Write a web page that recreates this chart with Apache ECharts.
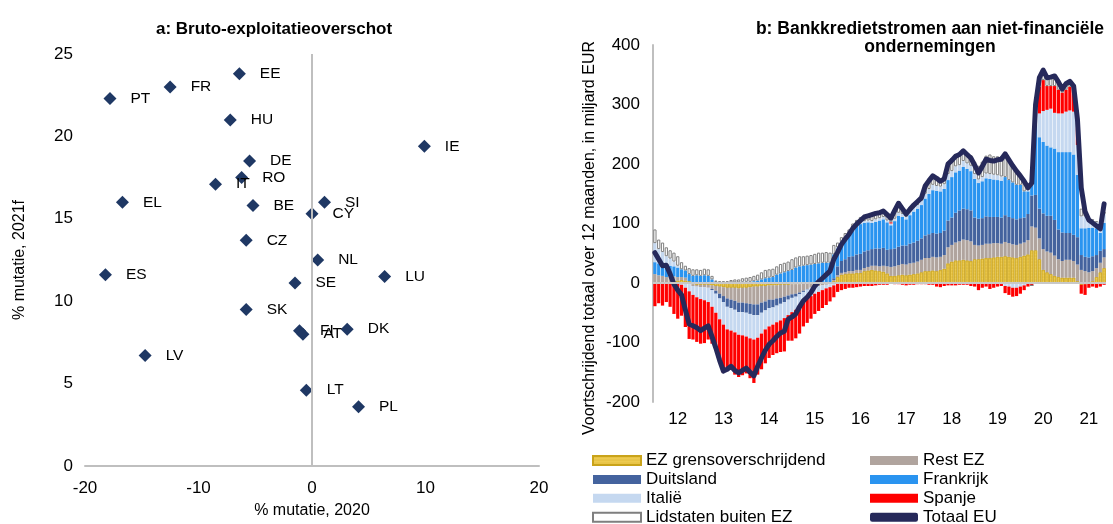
<!DOCTYPE html>
<html>
<head>
<meta charset="utf-8">
<script src="https://cdn.jsdelivr.net/npm/echarts@6/dist/echarts.min.js"></script>
<style>
html,body{margin:0;padding:0;background:#fff;}
#chart{width:1113px;height:524px;}
</style>
</head>
<body>
<div id="chart"></div>
<script>
// ---- Panel a: scatter ----
const countries = ['PT','FR','EE','HU','IE','DE','RO','IT','EL','BE','SI','CY','CZ','NL','ES','SE','LU','SK','FI','AT','DK','LV','LT','PL'];
const growth2020 = [-17.8,-12.5,-6.4,-7.2,9.9,-5.5,-6.2,-8.5,-16.7,-5.2,1.1,0.0,-5.8,0.5,-18.2,-1.5,6.4,-5.8,-1.1,-0.8,3.1,-14.7,-0.5,4.1];
const growth2021 = [22.3,23.0,23.8,21.0,19.4,18.5,17.5,17.1,16.0,15.8,16.0,15.3,13.7,12.5,11.6,11.1,11.5,9.5,8.2,8.0,8.3,6.7,4.6,3.6];

// ---- Panel b: monthly 12-month flows, Jan 2012 .. Nov 2021 ----
const months = [];
for (let y = 2012; y <= 2021; y++) for (let m = 1; m <= 12; m++) if (months.length < 119) months.push(y + '-' + String(m).padStart(2,'0'));

const ezCross = [0,0,0,0,2,3,4,5,4,3, -2,-3,-3,-3,-3,-4,-5,-6,-7,-8, -8,-8,-9,-8,-8,-7,-6,-6,-5,-5,
 -4,-4,-4,-3,-3,-3,-2,-2,-2,-1, 0,0,0,0,0,0,0,3,10,14, 15,16,16,17,17,20,21,22,21,20,
 19,16,12,12,13,14,13,14,15,16, 18,20,20,21,20,22,24,33,36,38, 38,39,38,37,40,40,41,42,42,43,
 44,44,45,44,43,42,44,46,48,55, 55,40,22,18,15,12,10,9,9,9, 9,3,-3,-2,0,3,10,18,25];
const restEZ = [15,13,12,10,9,8,6,5,5,-2, -3,-3,-4,-4,-5,-6,-8,-12,-15,-18, -20,-22,-24,-25,-26,-28,-30,-30,-28,-26,
 -24,-24,-22,-22,-20,-18,-17,-16,-14,-12, -10,-8,-6,-5,-4,-3,-2,2,3,3, 3,4,4,5,5,5,6,7,8,8,
 10,12,15,16,17,18,18,19,19,20, 21,22,22,23,23,22,23,27,28,30, 32,34,34,33,24,23,23,24,24,24,
 23,22,24,23,22,22,22,22,24,40, 38,35,35,35,36,34,30,28,30,30, 28,28,22,20,18,17,15,16,18];
const germany = [0,0,0,0,0,0,0,0,0,0, 0,0,0,0,0,-2,-5,-8,-10,-14, -14,-15,-16,-16,-16,-17,-18,-18,-17,-15,
 -14,-13,-12,-10,-9,-7,-6,-5,-3,-2, -1,0,0,0,0,0,0,3,15,20, 22,24,25,26,27,28,28,28,29,30,
 30,28,30,30,31,31,32,33,34,35, 36,38,40,40,40,40,41,45,46,50, 52,52,52,52,46,45,45,46,45,44,
 44,44,45,44,44,43,43,42,44,52, 55,50,60,60,62,60,50,48,45,45, 44,46,25,24,25,25,22,20,14];
const france = [20,20,20,19,18,17,16,13,12,12, 12,13,12,13,12,6,2,1,1,1, 1,1,1,2,2,2,3,4,6,8,
 9,10,14,16,18,20,22,26,28,29, 30,31,32,33,34,34,34,40,30,30, 34,37,45,48,50,48,47,44,45,47,
 48,46,40,46,52,48,44,48,52,54, 56,62,68,72,72,70,70,68,68,68, 67,70,68,66,65,60,62,64,64,63,
 62,62,64,62,60,58,56,44,38,18, 117,120,120,118,115,120,130,135,136,136, 135,105,45,48,50,48,45,30,44];
const italy = [32,24,20,16,12,8,3,-3,-8,-12, -15,-18,-20,-22,-24,-28,-32,-35,-38,-38, -38,-38,-38,-39,-40,-41,-41,-38,-35,-32,
 -31,-29,-28,-28,-27,-26,-24,-22,-20,-18, -16,-14,-12,-10,-8,-6,-5,-4,2,2, 2,3,3,3,3,3,3,3,4,4,
 4,3,3,4,5,5,4,5,6,6, 7,8,8,9,8,8,8,10,10,10, 9,10,9,9,8,6,7,8,8,8,
 8,7,-5,-6,-8,-8,-6,-4,2,3, 25,40,52,60,65,60,65,65,68,70, 72,50,20,20,15,12,10,12,15];
const spain = [-39,-34,-38,-32,-40,-52,-60,-52,-66,-80, -75,-75,-75,-72,-63,-62,-62,-72,-81,-70, -66,-71,-71,-67,-62,-67,-73,-62,-60,-57,
 -53,-51,-52,-53,-56,-43,-48,-48,-46,-40, -40,-38,-34,-32,-30,-28,-24,-20,-15,-12, -10,-8,-8,-7,-6,-5,-5,-5,-4,-3,
 -3,-3,2,-2,-2,-3,-4,-3,-3,-2, -2,-2,-3,-3,-6,-7,-5,-4,-4,-4, -3,-3,-3,-5,-6,-12,-8,-6,-10,-8,
 -6,-5,-12,-14,-15,-14,-12,-8,-6,-4, 10,45,52,40,38,45,40,35,37,40, 38,28,-15,-18,-8,-6,-8,-6,-3];
const nonEZ = [23,16,16,15,14,15,16,12,8,10, 11,10,10,11,11,6,2,2,2,2, 4,5,5,6,7,8,9,10,12,14,
 14,14,14,16,16,16,18,17,17,16, 16,16,17,18,17,18,17,16,8,8, 8,6,7,7,9,10,10,11,9,8,
 9,11,7,14,16,9,9,8,8,8, 7,15,17,18,16,13,13,21,22,21, 21,20,18,18,21,23,26,30,33,31,
 32,34,40,35,28,23,15,17,4,0, 0,12,17,14,15,17,13,6,10,9, 5,10,13,12,2,2,2,1,4];
const totalEU = [51,40,29,30,15,-2,-12,-20,-45,-69, -72,-75,-80,-76,-72,-90,-109,-130,-148,-145, -140,-147,-151,-147,-143,-150,-156,-140,-126,-113,
 -103,-97,-90,-84,-81,-61,-57,-52,-40,-30, -24,-16,-5,2,8,14,20,40,52,65, 74,82,92,99,105,111,113,115,117,118,
 121,115,109,122,134,125,116,124,131,137, 143,163,172,180,176,171,175,200,206,213, 216,222,216,210,198,185,196,208,206,205,
 207,208,217,207,197,188,180,171,160,168, 300,345,358,345,346,348,338,326,335,339, 331,275,160,120,106,101,96,91,133];

const FONT = "'Liberation Sans', Arial, sans-serif";
const chart = echarts.init(document.getElementById('chart'), null, {renderer: 'canvas'});

function barSeries(name, data, style) {
  return {
    name: name, type: 'bar', stack: 'flows', xAxisIndex: 1, yAxisIndex: 1,
    data: data, barCategoryGap: '15%', itemStyle: style, emphasis: {disabled: true}
  };
}

const series = [
  {
    name: 'scatter', type: 'scatter', xAxisIndex: 0, yAxisIndex: 0,
    data: countries.map((c, i) => [growth2020[i], growth2021[i], c]),
    symbol: 'diamond', symbolSize: 13,
    itemStyle: {color: '#1F3864', opacity: 1},
    label: {show: true, position: 'right', distance: 14, formatter: p => p.data[2],
      color: '#000', fontSize: 15.5, fontFamily: FONT},
    labelLayout: {hideOverlap: false},
    markLine: {silent: true, symbol: 'none', animation: false, label: {show: false},
      lineStyle: {color: '#BFBFBF', width: 2, type: 'solid'}, data: [{xAxis: 0}]}
  },
  Object.assign(barSeries('EZ grensoverschrijdend', ezCross, {color: '#EDCB50', borderColor: '#C9A31A', borderWidth: 0.6,
      decal: {symbol: 'circle', symbolSize: 0.6, dashArrayX: [2, 0], dashArrayY: [2, 1], color: 'rgba(190,140,0,0.4)'}}),
    {markLine: {silent: true, symbol: 'none', animation: false, label: {show: false}, z: 10,
      lineStyle: {color: '#C8C8C8', width: 2, type: 'solid'}, data: [{yAxis: 0}]}}),
  barSeries('Rest EZ', restEZ, {color: '#B0A49E'}),
  barSeries('Duitsland', germany, {color: '#44639E'}),
  barSeries('Frankrijk', france, {color: '#2A94F0'}),
  barSeries('Italië', italy, {color: '#C5D8F0'}),
  barSeries('Spanje', spain, {color: '#FF0000'}),
  barSeries('Lidstaten buiten EZ', nonEZ, {color: '#FFFFFF', borderColor: '#7F7F7F', borderWidth: 1}),
  {
    name: 'Totaal EU', type: 'line', xAxisIndex: 1, yAxisIndex: 1, data: totalEU,
    showSymbol: false, symbol: 'none', z: 5,
    lineStyle: {color: '#26295A', width: 5, cap: 'round', join: 'round'},
    itemStyle: {color: '#26295A'}, emphasis: {disabled: true}
  }
];

const legendText = {fontSize: 17, lineHeight: 16, color: '#000', fontFamily: FONT};
const legendBase = {orient: 'vertical', itemWidth: 48, itemHeight: 9, itemGap: 1.9, padding: 0,
  top: 452, height: 140, width: 260, selectedMode: false, textStyle: legendText};
const option = {
  animation: false,
  textStyle: {fontFamily: FONT},
  title: [
    {text: 'a: Bruto-exploitatieoverschot', left: 269, top: 15, textAlign: 'center',
      textStyle: {fontSize: 17, fontWeight: 'bold', color: '#000', fontFamily: FONT, lineHeight: 18}},
    {text: 'b: Bankkredietstromen aan niet-financiële\nondernemingen', left: 925, top: 15, textAlign: 'center',
      textStyle: {fontSize: 17.5, fontWeight: 'bold', color: '#000', fontFamily: FONT, lineHeight: 18}}
  ],
  graphic: [
    {type: 'text', x: 590, y: 238, rotation: Math.PI / 2, silent: true,
      style: {text: 'Voortschrijdend totaal over 12 maanden, in miljard EUR', fill: '#000',
        font: "16px 'Liberation Sans', Arial, sans-serif", textAlign: 'center', textVerticalAlign: 'middle'}}
  ],
  legend: [
    Object.assign({}, legendBase, {left: 592,
      data: [{name: 'EZ grensoverschrijdend', icon: 'rect'}, {name: 'Duitsland', icon: 'rect'},
             {name: 'Italië', icon: 'rect'}, {name: 'Lidstaten buiten EZ', icon: 'rect'}]}),
    Object.assign({}, legendBase, {left: 870,
      data: [{name: 'Rest EZ', icon: 'rect'}, {name: 'Frankrijk', icon: 'rect'}, {name: 'Spanje', icon: 'rect'},
             {name: 'Totaal EU', icon: 'roundRect', itemStyle: {color: '#26295A'}}]})
  ],
  grid: [
    {left: 85, right: 574, top: 54, bottom: 57},
    {left: 653, right: 7, top: 45, bottom: 122}
  ],
  xAxis: [
    {type: 'value', gridIndex: 0, min: -20, max: 20, interval: 10,
      name: '% mutatie, 2020', nameLocation: 'middle', nameGap: 37,
      nameTextStyle: {fontSize: 16, color: '#000', fontFamily: FONT},
      axisLine: {show: true, onZero: false, lineStyle: {color: '#BFBFBF', width: 2}},
      axisTick: {show: false}, splitLine: {show: false},
      axisLabel: {fontSize: 17, color: '#000', margin: 14, fontFamily: FONT}},
    {type: 'category', gridIndex: 1, data: months,
      axisLine: {show: false, onZero: false}, axisTick: {show: false}, splitLine: {show: false},
      axisLabel: {fontSize: 17, color: '#000', margin: 9, fontFamily: FONT,
        interval: (idx) => idx % 12 === 6,
        formatter: (v) => v.slice(2, 4)}}
  ],
  yAxis: [
    {type: 'value', gridIndex: 0, min: 0, max: 25, interval: 5,
      name: '% mutatie, 2021f', nameLocation: 'middle', nameGap: 57, nameRotate: 90,
      nameTextStyle: {fontSize: 16, color: '#000', fontFamily: FONT},
      axisLine: {show: false, onZero: false}, axisTick: {show: false}, splitLine: {show: false},
      axisLabel: {fontSize: 17, color: '#000', margin: 12, fontFamily: FONT}},
    {type: 'value', gridIndex: 1, min: -200, max: 400, interval: 100,
      axisLine: {show: true, onZero: false, lineStyle: {color: '#BFBFBF', width: 2}},
      axisTick: {show: false}, splitLine: {show: false},
      axisLabel: {fontSize: 17, color: '#000', margin: 13, fontFamily: FONT}}
  ],
  series: series
};
chart.setOption(option);
</script>
</body>
</html>
